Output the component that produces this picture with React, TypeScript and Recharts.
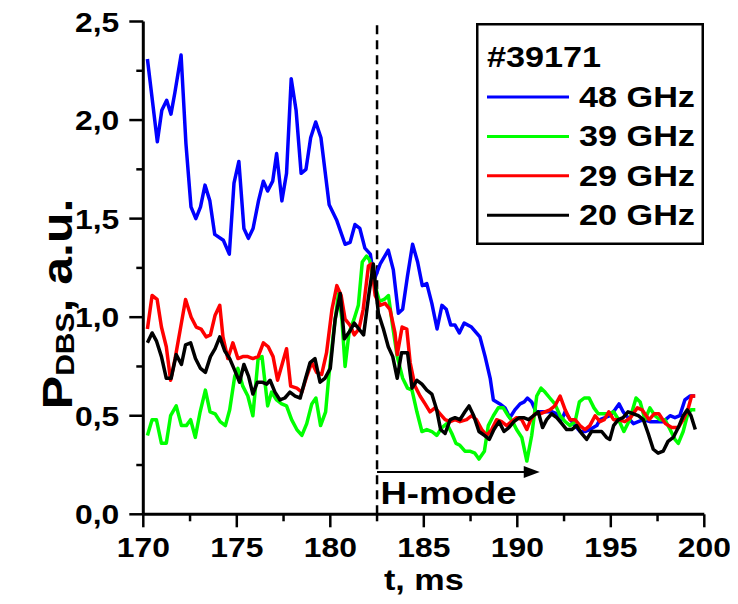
import React from 'react';
import { LineChart, Line, XAxis, YAxis, ReferenceLine, ReferenceDot, Legend, Label } from 'recharts';

// Time base (ms) and power (a.u.) for each DBS channel
const t48 = [170.22, 170.75, 170.99, 171.25, 171.48, 171.69, 172.02, 172.28, 172.55, 172.81, 173.06, 173.3, 173.56, 173.82, 174.28, 174.6, 174.85, 175.11, 175.38, 175.62, 175.87, 176.16, 176.42, 176.65, 176.92, 177.13, 177.41, 177.66, 177.91, 178.17, 178.44, 178.7, 178.95, 179.22, 179.5, 179.94, 180.35, 180.79, 181.06, 181.32, 181.58, 181.85, 182.14, 182.35, 182.67, 183.1, 183.37, 183.64, 183.87, 184.13, 184.4, 184.67, 184.92, 185.16, 185.43, 185.71, 185.97, 186.2, 186.44, 186.67, 186.9, 187.16, 187.55, 188.0, 188.28, 188.55, 188.72, 189.07, 189.34, 189.6, 189.87, 190.15, 190.37, 190.54, 190.77, 191.0, 191.47, 191.87, 192.12, 192.38, 192.55, 192.84, 193.09, 193.35, 193.62, 193.88, 194.25, 194.42, 194.69, 194.95, 195.22, 195.44, 195.66, 195.92, 196.21, 196.47, 196.74, 197.09, 197.42, 197.8, 198.17, 198.43, 198.69, 198.96, 199.23, 199.5];
const p48 = [2.31, 1.89, 2.05, 2.1, 2.03, 2.14, 2.33, 1.88, 1.56, 1.5, 1.56, 1.67, 1.59, 1.42, 1.39, 1.32, 1.68, 1.79, 1.45, 1.4, 1.45, 1.59, 1.69, 1.64, 1.69, 1.83, 1.59, 1.73, 2.21, 2.05, 1.73, 1.75, 1.91, 1.99, 1.91, 1.57, 1.49, 1.37, 1.38, 1.47, 1.45, 1.35, 1.32, 1.19, 1.27, 1.34, 1.24, 1.02, 1.04, 1.21, 1.37, 1.28, 1.16, 1.17, 1.07, 0.94, 1.06, 1.04, 0.96, 0.96, 0.92, 0.97, 0.95, 0.9, 0.8, 0.69, 0.58, 0.56, 0.54, 0.49, 0.53, 0.56, 0.57, 0.59, 0.57, 0.52, 0.52, 0.52, 0.51, 0.48, 0.52, 0.48, 0.45, 0.42, 0.42, 0.43, 0.45, 0.48, 0.49, 0.5, 0.53, 0.56, 0.52, 0.49, 0.46, 0.47, 0.48, 0.47, 0.47, 0.47, 0.5, 0.49, 0.5, 0.58, 0.6, 0.6];

const t39 = [170.22, 170.47, 170.7, 170.97, 171.23, 171.46, 171.76, 172.04, 172.3, 172.53, 172.78, 173.04, 173.32, 173.57, 173.84, 174.11, 174.39, 174.62, 174.89, 175.06, 175.32, 175.59, 175.86, 176.14, 176.35, 176.65, 176.86, 177.13, 177.4, 177.66, 177.93, 178.21, 178.48, 178.74, 179.01, 179.23, 179.48, 179.75, 179.92, 180.17, 180.44, 180.62, 180.79, 181.0, 181.27, 181.5, 181.71, 181.94, 182.1, 182.31, 182.63, 182.88, 183.11, 183.34, 183.58, 183.87, 184.13, 184.37, 184.63, 184.9, 185.16, 185.43, 185.69, 185.97, 186.23, 186.5, 186.72, 186.93, 187.2, 187.46, 187.73, 187.95, 188.24, 188.45, 188.72, 188.98, 189.25, 189.51, 189.75, 189.96, 190.24, 190.51, 190.77, 191.04, 191.27, 191.48, 191.74, 192.01, 192.29, 192.56, 192.82, 193.09, 193.32, 193.58, 193.84, 194.1, 194.33, 194.6, 194.86, 195.15, 195.42, 195.7, 196.01, 196.35, 196.57, 196.83, 197.09, 197.36, 197.62, 197.89, 198.17, 198.43, 198.61, 198.87, 199.09, 199.29, 199.52];
const p39 = [0.4, 0.48, 0.48, 0.36, 0.36, 0.5, 0.55, 0.45, 0.45, 0.48, 0.39, 0.52, 0.63, 0.52, 0.51, 0.47, 0.45, 0.53, 0.7, 0.74, 0.65, 0.6, 0.5, 0.79, 0.8, 0.55, 0.62, 0.58, 0.56, 0.55, 0.48, 0.43, 0.4, 0.46, 0.56, 0.59, 0.45, 0.52, 0.7, 0.92, 1.12, 0.99, 0.75, 0.92, 0.99, 1.06, 1.28, 1.31, 1.29, 1.19, 1.08, 1.09, 1.11, 0.95, 0.8, 0.69, 0.64, 0.63, 0.52, 0.42, 0.43, 0.42, 0.4, 0.44, 0.46, 0.41, 0.36, 0.35, 0.32, 0.32, 0.31, 0.28, 0.32, 0.45, 0.5, 0.54, 0.54, 0.5, 0.47, 0.43, 0.39, 0.27, 0.4, 0.6, 0.64, 0.62, 0.59, 0.56, 0.5, 0.47, 0.45, 0.47, 0.57, 0.59, 0.59, 0.54, 0.51, 0.51, 0.51, 0.52, 0.48, 0.42, 0.48, 0.59, 0.57, 0.48, 0.54, 0.5, 0.48, 0.48, 0.43, 0.38, 0.36, 0.42, 0.5, 0.53, 0.53];

const t29 = [170.22, 170.47, 170.74, 170.97, 171.23, 171.46, 171.7, 172.0, 172.26, 172.56, 172.83, 173.09, 173.36, 173.59, 173.84, 174.09, 174.26, 174.52, 174.79, 175.06, 175.32, 175.59, 175.86, 176.14, 176.42, 176.68, 176.94, 177.18, 177.42, 177.66, 177.88, 178.21, 178.48, 178.74, 179.01, 179.27, 179.54, 179.8, 180.09, 180.35, 180.58, 180.79, 181.05, 181.28, 181.53, 181.76, 182.04, 182.2, 182.4, 182.66, 182.93, 183.19, 183.46, 183.58, 183.84, 184.09, 184.27, 184.53, 184.8, 185.07, 185.33, 185.6, 185.87, 186.14, 186.41, 186.67, 186.93, 187.29, 187.55, 187.81, 188.1, 188.36, 188.63, 188.89, 189.16, 189.43, 189.69, 189.96, 190.24, 190.51, 190.72, 190.95, 191.22, 191.48, 191.74, 192.01, 192.29, 192.56, 192.82, 193.09, 193.35, 193.62, 193.88, 194.16, 194.42, 194.65, 194.89, 195.15, 195.42, 195.75, 196.05, 196.42, 196.67, 197.05, 197.32, 197.57, 197.92, 198.26, 198.61, 198.87, 199.12, 199.32, 199.52];
const p29 = [0.94, 1.11, 1.09, 0.95, 0.85, 0.68, 0.79, 0.95, 1.09, 1.0, 0.95, 0.94, 0.9, 0.91, 1.01, 1.06, 0.9, 0.79, 0.87, 0.79, 0.8, 0.8, 0.79, 0.8, 0.87, 0.85, 0.8, 0.68, 0.76, 0.84, 0.65, 0.64, 0.62, 0.7, 0.77, 0.72, 0.71, 0.82, 1.04, 1.16, 1.11, 0.99, 0.96, 0.91, 0.94, 1.04, 1.26, 1.27, 1.11, 1.06, 1.07, 1.04, 0.92, 0.81, 0.95, 0.94, 0.77, 0.65, 0.6, 0.56, 0.52, 0.54, 0.51, 0.48, 0.47, 0.48, 0.47, 0.48, 0.5, 0.48, 0.43, 0.4, 0.43, 0.48, 0.47, 0.45, 0.47, 0.49, 0.48, 0.43, 0.48, 0.51, 0.51, 0.52, 0.53, 0.55, 0.6, 0.53, 0.48, 0.48, 0.45, 0.43, 0.45, 0.5, 0.47, 0.48, 0.52, 0.48, 0.48, 0.47, 0.49, 0.54, 0.53, 0.48, 0.51, 0.51, 0.46, 0.44, 0.44, 0.48, 0.53, 0.6, 0.6];

const t20 = [170.22, 170.47, 170.7, 170.97, 171.23, 171.49, 171.76, 172.04, 172.26, 172.53, 172.79, 173.06, 173.32, 173.59, 173.84, 174.09, 174.35, 174.62, 174.89, 175.15, 175.38, 175.63, 175.86, 176.1, 176.35, 176.6, 176.78, 177.04, 177.31, 177.57, 177.84, 178.12, 178.39, 178.65, 178.92, 179.18, 179.45, 179.71, 180.0, 180.26, 180.53, 180.75, 181.05, 181.28, 181.53, 181.78, 182.04, 182.3, 182.57, 182.84, 183.1, 183.34, 183.58, 183.81, 184.13, 184.37, 184.63, 184.9, 185.16, 185.43, 185.69, 185.9, 186.14, 186.41, 186.67, 186.93, 187.2, 187.42, 187.67, 187.95, 188.24, 188.5, 188.75, 189.02, 189.29, 189.55, 189.82, 190.1, 190.34, 190.6, 190.86, 191.12, 191.35, 191.57, 191.83, 192.11, 192.38, 192.64, 192.91, 193.17, 193.44, 193.71, 193.97, 194.24, 194.51, 194.77, 194.95, 195.15, 195.4, 195.66, 195.92, 196.21, 196.47, 196.74, 197.0, 197.27, 197.53, 197.8, 198.06, 198.34, 198.61, 198.87, 199.09, 199.29, 199.52];
const p20 = [0.87, 0.92, 0.88, 0.8, 0.69, 0.69, 0.81, 0.76, 0.86, 0.87, 0.79, 0.74, 0.72, 0.8, 0.84, 0.9, 0.83, 0.79, 0.73, 0.67, 0.76, 0.7, 0.61, 0.67, 0.67, 0.66, 0.68, 0.62, 0.58, 0.59, 0.62, 0.6, 0.59, 0.68, 0.77, 0.79, 0.67, 0.69, 0.74, 0.99, 1.12, 0.89, 0.93, 0.97, 0.94, 0.91, 1.1, 1.27, 1.02, 0.94, 0.85, 0.8, 0.69, 0.82, 0.82, 0.64, 0.68, 0.66, 0.63, 0.61, 0.53, 0.43, 0.41, 0.48, 0.49, 0.48, 0.52, 0.55, 0.5, 0.42, 0.4, 0.38, 0.43, 0.47, 0.42, 0.44, 0.47, 0.49, 0.49, 0.48, 0.5, 0.52, 0.44, 0.48, 0.51, 0.49, 0.46, 0.43, 0.43, 0.45, 0.41, 0.38, 0.42, 0.42, 0.42, 0.39, 0.38, 0.45, 0.48, 0.49, 0.52, 0.51, 0.5, 0.48, 0.41, 0.33, 0.31, 0.32, 0.37, 0.39, 0.44, 0.5, 0.53, 0.5, 0.43];

const seriesNames = ['48 GHz', '39 GHz', '29 GHz', '20 GHz'];
const seriesColors = ['#0000ff', '#00ff00', '#ff0000', '#000000'];
const shotLabel = '#39171';
const xTicks = [170, 172.5, 175, 177.5, 180, 182.5, 185, 187.5, 190, 192.5, 195, 197.5, 200];
const yTicks = [0, 0.25, 0.5, 0.75, 1, 1.25, 1.5, 1.75, 2, 2.25, 2.5];
const xTitle = 't, ms';
const hModeLabel = 'H-mode';
const lhTime = 182.5;
const hModeArrowEnd = 191.2;
const hModeArrowLevel = 0.215;
const hModeTextLevel = 0.05;

const zip = (t: number[], p: number[]) => t.map((x, i) => ({ t: x, p: p[i] }));
const seriesData = [zip(t48, p48), zip(t39, p39), zip(t29, p29), zip(t20, p20)];

const FONT = '"Liberation Sans", Arial, Helvetica, sans-serif';
const SX = 1.18;

function Txt({ x, y, size, anchor = 'start', children }: any) {
  return (
    <text transform={`translate(${x} ${y}) scale(${SX} 1)`} textAnchor={anchor} fontFamily={FONT}
      fontWeight="bold" fontSize={size} fill="#000">
      {children}
    </text>
  );
}

const isMajorX = (v: number) => Math.abs(v % 5) < 1e-6;
const isMajorY = (v: number) => Math.abs((v * 2) % 1) < 1e-6;
const fmtY = (v: number) => v.toFixed(1).replace('.', ',');

const BottomTick = (props: any) => {
  const { x, y, payload } = props;
  const major = isMajorX(payload.value);
  return (
    <g>
      <line x1={x} x2={x} y1={y} y2={y + (major ? 13 : 7)} stroke="#000" strokeWidth={2.5} />
      {major && <Txt x={x} y={y + 43} size={27} anchor="middle">{payload.value}</Txt>}
    </g>
  );
};

const TopTick = (props: any) => {
  const { x, y, payload } = props;
  const major = isMajorX(payload.value);
  return <line x1={x} x2={x} y1={y} y2={y - (major ? 12 : 6)} stroke="#000" strokeWidth={2.5} />;
};

const LeftTick = (props: any) => {
  const { x, y, payload } = props;
  const major = isMajorY(payload.value);
  return (
    <g>
      <line x1={x} x2={x - (major ? 14 : 7)} y1={y} y2={y} stroke="#000" strokeWidth={2.5} />
      {major && <Txt x={x - 24} y={y + 10} size={27} anchor="end">{fmtY(payload.value)}</Txt>}
    </g>
  );
};

const XTitle = (props: any) => {
  const vb = props.viewBox;
  return <Txt x={vb.x + vb.width / 2} y={vb.y + 76} size={29} anchor="middle">{xTitle}</Txt>;
};

// Vertical title: P with subscript DBS, rotated along the left axis
const YTitle = (props: any) => {
  const vb = props.viewBox;
  const size = 50;
  const tr = `translate(${vb.x + 9} ${vb.y + vb.height / 2 + 36}) scale(0.86 1) rotate(-90)`;
  return (
    <text transform={tr} textAnchor="middle" fontFamily={FONT} fontWeight="bold" fontSize={size} fill="#000">
      <tspan>P</tspan>
      <tspan fontSize={size * 0.6} dy={size * 0.04}>DBS</tspan>
      <tspan fontSize={size} dy={-size * 0.04}>, a.u.</tspan>
    </text>
  );
};

const LegendBox = (props: any) => {
  const payload = [...(props.payload || [])].sort(
    (a: any, b: any) => seriesNames.indexOf(a.value) - seriesNames.indexOf(b.value)
  );
  return (
    <svg width={228} height={222} style={{ display: 'block' }}>
      <rect x={1.25} y={1.25} width={225.5} height={219.5} fill="#fff" stroke="#000" strokeWidth={2.5} />
      <Txt x={11} y={44} size={29}>{shotLabel}</Txt>
      {payload.map((e: any, i: number) => {
        const ly = 74 + i * 39.4;
        return (
          <g key={e.value}>
            <line x1={11} x2={93} y1={ly} y2={ly} stroke={e.color} strokeWidth={3} />
            <Txt x={103} y={ly + 10} size={29}>{e.value}</Txt>
          </g>
        );
      })}
    </svg>
  );
};

const ArrowHead = (props: any) => {
  const { cx, cy } = props;
  return <path d={`M${cx},${cy} L${cx - 16},${cy - 6} L${cx - 16},${cy + 6} Z`} fill="#000" />;
};

const HModeText = (props: any) => {
  const { cx, cy } = props;
  return <Txt x={cx} y={cy} size={31}>{hModeLabel}</Txt>;
};

export default function App() {
  const axisLine = { stroke: '#000', strokeWidth: 3 };
  return (
    <div style={{ width: 730, height: 596, position: 'relative' }}>
      <LineChart width={730} height={596} margin={{ top: 13.5, right: 33.7, bottom: 29.7, left: 55.3 }}>
        <XAxis xAxisId="b" dataKey="t" type="number" domain={[170, 200]} ticks={xTicks} interval={0}
          tickSize={0} tickMargin={0} tickLine={false} axisLine={axisLine} tick={BottomTick} height={60} allowDataOverflow>
          <Label content={XTitle} />
        </XAxis>
        <XAxis xAxisId="top" orientation="top" dataKey="t" type="number" domain={[170, 200]} ticks={xTicks} interval={0}
          tickSize={0} tickMargin={0} tickLine={false} axisLine={axisLine} tick={TopTick} height={0} allowDataOverflow />
        <YAxis yAxisId="l" type="number" domain={[0, 2.5]} ticks={yTicks} interval={0}
          tickSize={0} tickMargin={0} tickLine={false} axisLine={axisLine} tick={LeftTick} width={80} allowDataOverflow>
          <Label content={YTitle} />
        </YAxis>
        <YAxis yAxisId="r" orientation="right" type="number" domain={[0, 2.5]} ticks={yTicks}
          tickLine={false} axisLine={axisLine} tick={false} width={0} allowDataOverflow />
        <ReferenceLine xAxisId="b" yAxisId="l" x={lhTime} stroke="#000" strokeWidth={2.5} strokeDasharray="9 6" />
        {seriesData.map((d, i) => (
          <Line key={seriesNames[i]} xAxisId="b" yAxisId="l" data={d} dataKey="p" name={seriesNames[i]}
            stroke={seriesColors[i]} strokeWidth={3.5} dot={false} isAnimationActive={false} strokeLinejoin="round" />
        ))}
        <ReferenceLine xAxisId="b" yAxisId="l" segment={[{ x: lhTime, y: hModeArrowLevel }, { x: hModeArrowEnd - 0.5, y: hModeArrowLevel }]} stroke="#000" strokeWidth={2} />
        <ReferenceDot xAxisId="b" yAxisId="l" x={hModeArrowEnd} y={hModeArrowLevel} shape={ArrowHead} />
        <ReferenceDot xAxisId="b" yAxisId="l" x={182.68} y={hModeTextLevel} shape={HModeText} />
        <Legend layout="vertical" align="center" verticalAlign="middle"
          wrapperStyle={{ position: 'absolute', left: 468, top: 15, width: 228, height: 222 }} content={LegendBox} />
      </LineChart>
    </div>
  );
}
